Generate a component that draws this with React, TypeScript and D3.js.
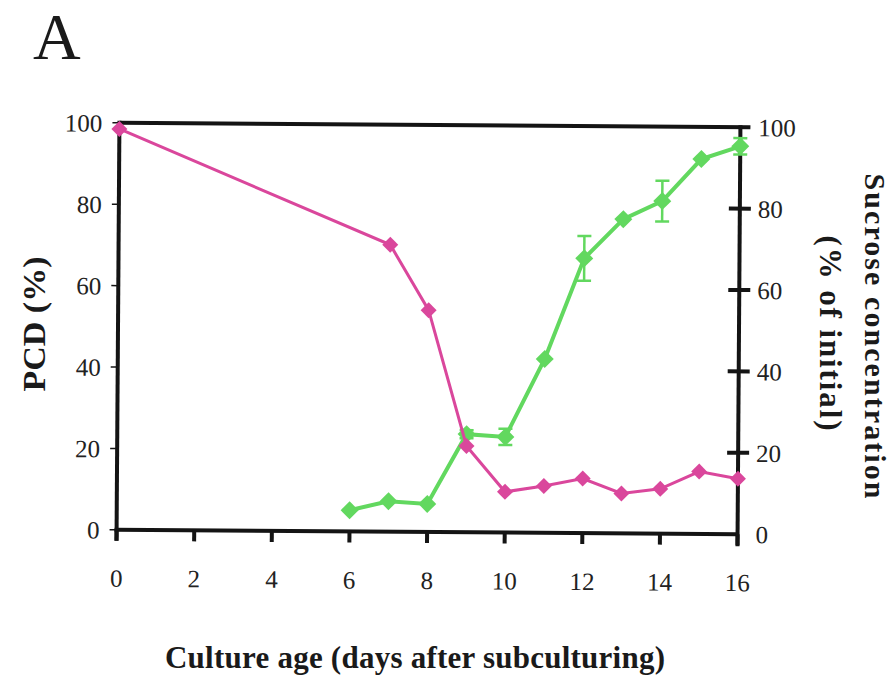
import React from "react";
import * as d3 from "d3";

const pcdDays = [6, 7, 8, 9, 10, 11, 12, 13, 14, 15, 16];
const pcdValues = [5.2, 7.5, 6.9, 24.1, 23.5, 42.7, 67.5, 77.2, 81.7, 92.1, 95.3];
const pcdErrors = [0, 0, 0, 1, 2, 0, 5.5, 0, 5, 0, 2];

const sucroseDays = [0, 7, 8, 9, 10, 11, 12, 13, 14, 15, 16];
const sucroseValues = [98.5, 70.5, 54.5, 21.2, 10, 11.5, 13.4, 9.8, 11, 15.3, 13.6];

const xTicks = [0, 2, 4, 6, 8, 10, 12, 14, 16];
const yTicks = [0, 20, 40, 60, 80, 100];

const GREEN = "#62d85f";
const PINK = "#da479c";
const AXIS = "#141414";
const FONT = "'Liberation Serif', 'Times New Roman', serif";

const W = 895;
const H = 683;
const L = 118, R = 739, T = 125, B = 532;

export default function App() {
  const x = d3.scaleLinear().domain([0, 16]).range([L, R]);
  const yL = d3.scaleLinear().domain([0, 100]).range([B, T]);
  const yR = d3.scaleLinear().domain([0, 100]).range([B, T]);

  const green = pcdDays.map((d, i) => ({ d, v: pcdValues[i], e: pcdErrors[i] }));
  const pink = sucroseDays.map((d, i) => ({ d, v: sucroseValues[i] }));

  const lineG = d3.line<{ d: number; v: number }>().x(p => x(p.d)).y(p => yL(p.v));
  const lineP = d3.line<{ d: number; v: number }>().x(p => x(p.d)).y(p => yR(p.v));

  const diamond = (cx: number, cy: number, r: number) =>
    `M${cx},${cy - r}L${cx + r},${cy}L${cx},${cy + r}L${cx - r},${cy}Z`;

  const cx = (L + R) / 2, cy = (T + B) / 2;

  return (
    <svg width={W} height={H} style={{ position: "absolute", left: 0, top: 0, background: "#fff" }}>
      <text x={33} y={59} fontFamily={FONT} fontSize={66} fill="#1a1a1a">A</text>
      <g transform={`rotate(0.4, ${cx}, ${cy})`}>
        {/* frame */}
        <line x1={L} y1={T} x2={R + 10} y2={T} stroke={AXIS} strokeWidth={4} />
        <line x1={L} y1={T - 2} x2={L} y2={B + 11} stroke={AXIS} strokeWidth={4} />
        <line x1={L - 2} y1={B} x2={R} y2={B} stroke={AXIS} strokeWidth={4} />
        <line x1={R} y1={T - 2} x2={R} y2={B + 12} stroke={AXIS} strokeWidth={4} />

        {/* left ticks */}
        {yTicks.map(t => (
          <g key={"yl" + t}>
            <line x1={L - 7} x2={L} y1={yL(t)} y2={yL(t)} stroke={AXIS} strokeWidth={1.5} />
            <text x={101} y={yL(t) + 9} textAnchor="end" fontFamily={FONT} fontSize={25} fill="#222">{t}</text>
          </g>
        ))}
        {/* right ticks */}
        {yTicks.map(t => (
          <g key={"yr" + t}>
            {t > 0 && t < 100 && (
              <line x1={R - 11} x2={R + 11} y1={yR(t)} y2={yR(t)} stroke={AXIS} strokeWidth={4} />
            )}
            <text x={757} y={yR(t) + 9} textAnchor="start" fontFamily={FONT} fontSize={25} fill="#222">{t}</text>
          </g>
        ))}
        {/* x ticks */}
        {xTicks.map(t => (
          <g key={"x" + t}>
            <line x1={x(t)} x2={x(t)} y1={B} y2={B + 11} stroke={AXIS} strokeWidth={4} />
            <text x={x(t)} y={589} textAnchor="middle" fontFamily={FONT} fontSize={25} fill="#222">{t}</text>
          </g>
        ))}

        {/* green series (PCD) */}
        <path d={lineG(green) || ""} fill="none" stroke={GREEN} strokeWidth={4} />
        {green.filter(p => p.e > 0).map(p => (
          <g key={"e" + p.d} stroke={GREEN} strokeWidth={2.5}>
            <line x1={x(p.d)} x2={x(p.d)} y1={yL(p.v + p.e)} y2={yL(p.v - p.e)} />
            <line x1={x(p.d) - 7} x2={x(p.d) + 7} y1={yL(p.v + p.e)} y2={yL(p.v + p.e)} />
            <line x1={x(p.d) - 7} x2={x(p.d) + 7} y1={yL(p.v - p.e)} y2={yL(p.v - p.e)} />
          </g>
        ))}
        {green.map(p => (
          <path key={"g" + p.d} d={diamond(x(p.d), yL(p.v), 9)} fill={GREEN} />
        ))}

        {/* pink series (sucrose) */}
        <path d={lineP(pink) || ""} fill="none" stroke={PINK} strokeWidth={3} />
        {pink.map(p => (
          <path key={"p" + p.d} d={diamond(x(p.d), yR(p.v), 8)} fill={PINK} />
        ))}
      </g>

      {/* titles */}
      <text transform="translate(45,324) rotate(-90)" textAnchor="middle" fontFamily={FONT}
        fontWeight="bold" fontSize={32} fill="#1a1a1a" textLength={135} lengthAdjust="spacingAndGlyphs">PCD (%)</text>
      <text transform="translate(865,336) rotate(90)" textAnchor="middle" fontFamily={FONT}
        fontWeight="bold" fontSize={30} fill="#1a1a1a" textLength={325} lengthAdjust="spacing">Sucrose concentration</text>
      <text transform="translate(820,333) rotate(90)" textAnchor="middle" fontFamily={FONT}
        fontWeight="bold" fontSize={31} fill="#1a1a1a" textLength={195} lengthAdjust="spacing">(% of initial)</text>
      <text x={415} y={668} textAnchor="middle" fontFamily={FONT} fontWeight="bold" fontSize={31}
        fill="#1a1a1a" textLength={500} lengthAdjust="spacing">Culture age (days after subculturing)</text>
    </svg>
  );
}
